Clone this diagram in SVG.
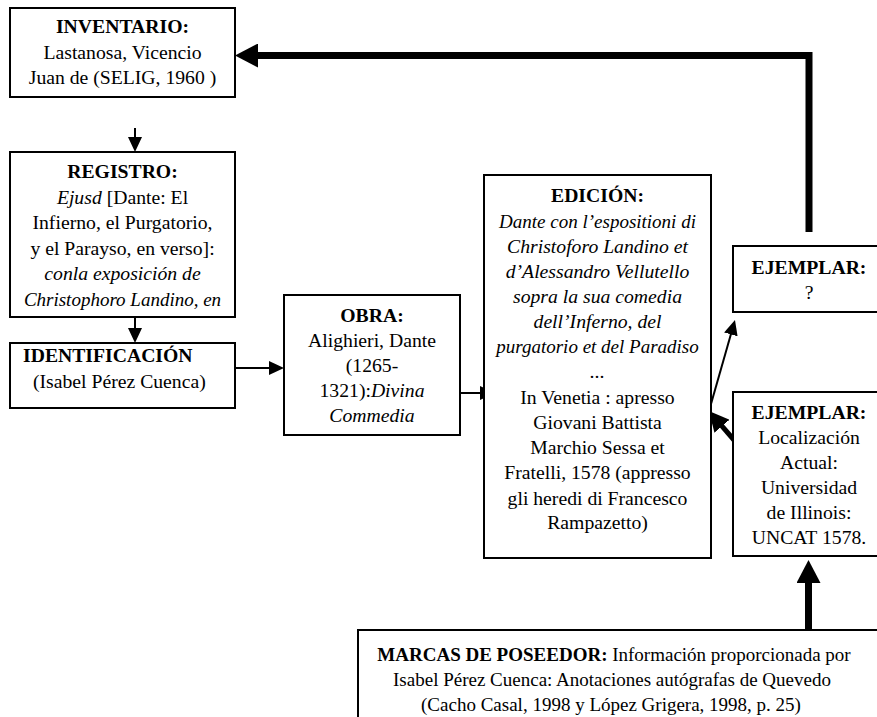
<svg xmlns="http://www.w3.org/2000/svg" width="877" height="717" viewBox="0 0 877 717">
  <style>
    .box { fill: #fff; stroke: #000; stroke-width: 2; }
    text { font-family: "Liberation Serif", "Times New Roman", serif; font-size: 19.7px; fill: #000; }
    .c { text-anchor: middle; }
    .b { font-weight: bold; }
    .i { font-style: italic; }
    .sm { font-size: 19px; }
    .thin { fill: none; stroke: #000; stroke-width: 2; }
    .thick { fill: none; stroke: #000; stroke-width: 7; stroke-linejoin: miter; }
    .mid { fill: none; stroke: #000; stroke-width: 5; }
  </style>
  <defs>
    <marker id="headThin" markerUnits="userSpaceOnUse" markerWidth="16" markerHeight="14" refX="2" refY="7" orient="auto">
      <path d="M0,0 L15,7 L0,14 z" fill="#000"/>
    </marker>
    <marker id="headThick" markerUnits="userSpaceOnUse" markerWidth="24" markerHeight="24" refX="2" refY="12" orient="auto">
      <path d="M0,0 L23,12 L0,24 z" fill="#000"/>
    </marker>
    <marker id="headMid" markerUnits="userSpaceOnUse" markerWidth="20" markerHeight="20" refX="2" refY="10" orient="auto">
      <path d="M0,0 L20,10 L0,20 z" fill="#000"/>
    </marker>
  </defs>

  <rect width="877" height="717" fill="#fff"/>

  <g id="connectors">
    <!-- ejemplar ? up and back to the inventory -->
    <path class="thick" d="M809,232 V55.5 H256" marker-end="url(#headThick)"/>
    <!-- inventory -> registro -->
    <path class="thin" d="M135,128 V139" marker-end="url(#headThin)"/>
    <!-- registro -> identificacion -->
    <path class="thin" d="M135,317 V330" marker-end="url(#headThin)"/>
    <!-- identificacion -> obra -->
    <path class="thin" d="M235,368 H271" marker-end="url(#headThin)"/>
    <!-- obra -> edicion -->
    <path class="thin" d="M460,393 H482" marker-end="url(#headThin)"/>
    <!-- edicion -> ejemplar ? -->
    <path class="thin" d="M709,411 L731.4,332.5" marker-end="url(#headThin)"/>
    <!-- ejemplar (Illinois) -> edicion -->
    <path class="mid" d="M734,440 L720.7,424.7" marker-end="url(#headMid)"/>
    <!-- marcas de poseedor -> ejemplar (Illinois) -->
    <path class="thick" d="M808.5,631 V581" marker-end="url(#headThick)"/>
  </g>

  <g id="inventario">
    <rect class="box" x="10" y="8" width="225" height="89"/>
    <text class="c b" x="122.5" y="33">INVENTARIO:</text>
    <text class="c" x="122.5" y="58.5">Lastanosa, Vicencio</text>
    <text class="c" x="122.5" y="84">Juan de (SELIG, 1960 )</text>
  </g>

  <g id="registro">
    <rect class="box" x="10" y="152" width="225" height="165"/>
    <text class="c b" x="122.5" y="178">REGISTRO:</text>
    <text class="c" x="122.5" y="203.5"><tspan class="i">Ejusd</tspan> [Dante: El</text>
    <text class="c" x="122.5" y="229">Infierno, el Purgatorio,</text>
    <text class="c" x="122.5" y="254.5">y el Parayso, en verso]:</text>
    <text class="c i" x="122.5" y="280">conla exposición de</text>
    <text class="c i sm" x="122.5" y="305.5">Christophoro Landino, en</text>
  </g>

  <g id="identificacion">
    <rect class="box" x="10" y="343" width="225" height="65"/>
    <text class="b" x="23" y="362">IDENTIFICACIÓN</text>
    <text x="33" y="388">(Isabel Pérez Cuenca)</text>
  </g>

  <g id="obra">
    <rect class="box" x="284" y="295" width="176" height="140"/>
    <text class="c b" x="372" y="322">OBRA:</text>
    <text class="c" x="372" y="347">Alighieri, Dante</text>
    <text class="c" x="372" y="372">(1265-</text>
    <text class="c" x="372" y="397">1321):<tspan class="i">Divina</tspan></text>
    <text class="c i" x="372" y="422">Commedia</text>
  </g>

  <g id="edicion">
    <rect class="box" x="484" y="175" width="227" height="383"/>
    <text class="c b" x="597.5" y="202">EDICIÓN:</text>
    <text class="c i sm" x="597.5" y="228">Dante con l’espositioni di</text>
    <text class="c i" x="597.5" y="253">Christoforo Landino et</text>
    <text class="c i" x="597.5" y="278">d’Alessandro Vellutello</text>
    <text class="c i" x="597.5" y="303">sopra la sua comedia</text>
    <text class="c i" x="597.5" y="328">dell’Inferno, del</text>
    <text class="c i sm" x="597.5" y="353">purgatorio et del Paradiso</text>
    <text class="c i" x="597.5" y="378">...</text>
    <text class="c" x="597.5" y="404">In Venetia : apresso</text>
    <text class="c" x="597.5" y="429">Giovani Battista</text>
    <text class="c" x="597.5" y="454">Marchio Sessa et</text>
    <text class="c" x="597.5" y="479">Fratelli, 1578 (appresso</text>
    <text class="c" x="597.5" y="505">gli heredi di Francesco</text>
    <text class="c" x="597.5" y="529">Rampazetto)</text>
  </g>

  <g id="ejemplar-desconocido">
    <rect class="box" x="733" y="246" width="160" height="66"/>
    <text class="c b" x="809" y="274">EJEMPLAR:</text>
    <text class="c" x="809" y="299">?</text>
  </g>

  <g id="ejemplar-illinois">
    <rect class="box" x="733" y="392" width="160" height="164"/>
    <text class="c b" x="809" y="419">EJEMPLAR:</text>
    <text class="c" x="809" y="444">Localización</text>
    <text class="c" x="809" y="469">Actual:</text>
    <text class="c" x="809" y="494">Universidad</text>
    <text class="c" x="809" y="519">de Illinois:</text>
    <text class="c" x="809" y="544">UNCAT 1578.</text>
  </g>

  <g id="marcas">
    <rect class="box" x="358" y="630" width="540" height="100"/>
    <text class="c sm" x="614" y="661"><tspan class="b">MARCAS DE POSEEDOR:</tspan> Información proporcionada por</text>
    <text class="c sm" x="612" y="686">Isabel Pérez Cuenca: Anotaciones autógrafas de Quevedo</text>
    <text class="c sm" x="611" y="711">(Cacho Casal, 1998 y López Grigera, 1998, p. 25)</text>
  </g>
</svg>
